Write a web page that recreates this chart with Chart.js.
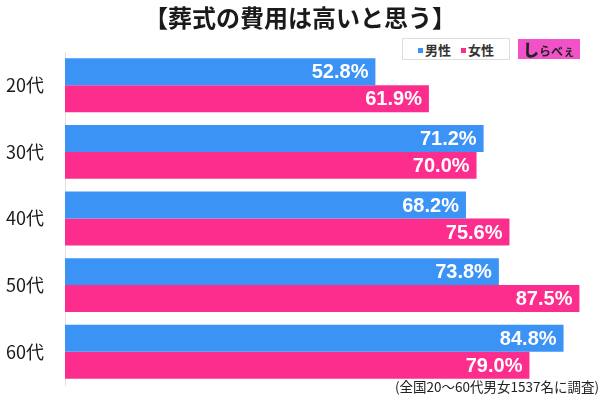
<!DOCTYPE html>
<html><head><meta charset="utf-8">
<script src="https://cdn.jsdelivr.net/npm/chart.js@4.4.0/dist/chart.umd.min.js"></script>
<style>
html,body{margin:0;padding:0;background:#fff;}
#wrap{position:relative;width:600px;height:402px;font-family:"Noto Sans CJK JP",sans-serif;}
#title{position:absolute;left:0;top:2px;width:600px;text-align:center;font-size:24px;font-weight:bold;color:#1a1a1a;line-height:30px;}
#legend{position:absolute;left:402px;top:38px;width:106px;height:20px;border:1px solid #ddd;font-size:13px;font-weight:bold;color:#333;display:flex;align-items:center;justify-content:center;gap:10px;background:#fff;}
#legend span i{display:inline-block;width:5px;height:5px;margin-right:2px;vertical-align:middle;}
#logo{position:absolute;left:518px;top:39px;width:62px;height:20px;background:#f252c8;color:#222;font-size:12px;font-weight:bold;line-height:21px;text-align:center;}
#logo b{font-size:16px;}
#note{position:absolute;right:1px;top:376px;font-size:13.5px;color:#222;}
canvas{position:absolute;left:0;top:0;}
</style></head>
<body><div id="wrap">
<canvas id="c" width="600" height="402"></canvas>
<div id="title">【葬式の費用は高いと思う】</div>
<div id="legend"><span><i style="background:#3b93f5"></i>男性</span><span><i style="background:#fc2d8d"></i>女性</span></div>
<div id="logo"><b>し</b>らべぇ</div>
<div id="note">(全国20～60代男女1537名に調査)</div>
</div>
<script>
const categories = ["20代","30代","40代","50代","60代"];
const male = [52.8, 71.2, 68.2, 73.8, 84.8];
const female = [61.9, 70.0, 75.6, 87.5, 79.0];
const seriesNames = ["男性","女性"];

const labelPlugin = {
  id:'lbl',
  afterDatasetsDraw(chart){
    const ctx = chart.ctx;
    ctx.save();
    ctx.fillStyle='#fff';
    ctx.font='bold 20px "Liberation Sans", Arial, sans-serif';
    ctx.textAlign='right';ctx.textBaseline='middle';
    chart.data.datasets.forEach((ds,i)=>{
      chart.getDatasetMeta(i).data.forEach((bar,j)=>{
        ctx.fillText(ds.data[j].toFixed(1)+'%', bar.x-7, bar.y+1);
      });
    });
    ctx.restore();
  }
};

new Chart(document.getElementById('c'),{
  type:'bar',
  data:{labels:categories,datasets:[
    {label:seriesNames[0],data:male,backgroundColor:'#3b93f5',borderWidth:0},
    {label:seriesNames[1],data:female,backgroundColor:'#fc2d8d',borderWidth:0}
  ]},
  options:{
    indexAxis:'y',responsive:false,maintainAspectRatio:false,animation:false,
    layout:{padding:{top:52,bottom:17,left:0,right:0}},
    datasets:{bar:{categoryPercentage:0.81,barPercentage:1}},
    plugins:{legend:{display:false},tooltip:{enabled:false}},
    scales:{
      x:{display:false,min:0,max:91},
      y:{
        grid:{display:false},
        border:{display:true,color:'#e2e2e2',width:1},
        ticks:{color:'#1a1a1a',font:{size:18,lineHeight:1,family:'"Noto Sans CJK JP", sans-serif'},padding:13},
        afterFit(s){s.width=65;s.paddingTop=0;s.paddingBottom=0;}
      }
    }
  },
  plugins:[labelPlugin]
});
</script>
</body></html>
